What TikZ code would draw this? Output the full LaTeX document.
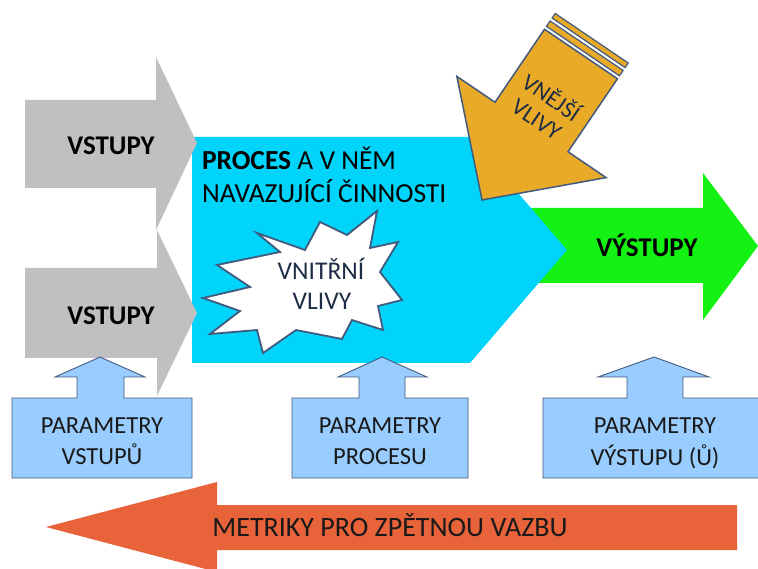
\documentclass[tikz,border=0pt]{standalone}
\usepackage{fontspec}
\setmainfont{Carlito}
\definecolor{grayA}{RGB}{192,192,192}
\definecolor{cyanP}{RGB}{0,212,250}
\definecolor{greenO}{RGB}{20,242,20}
\definecolor{orangeE}{RGB}{233,170,40}
\definecolor{redM}{RGB}{232,98,58}
\definecolor{blueB}{RGB}{153,204,255}
\definecolor{edgeC}{RGB}{65,90,125}
\definecolor{navyT}{RGB}{30,45,70}
\begin{document}
\begin{tikzpicture}[x=1pt,y=-1pt,
  txt/.style={inner sep=0pt, outer sep=0pt},
  bigbold/.style={txt, font=\fontsize{27}{32}\selectfont\bfseries},
  proctxt/.style={txt, font=\fontsize{27.5}{32}\selectfont},
  boxtxt/.style={txt, font=\fontsize{24.5}{30}\selectfont, text=black!90},
  startxt/.style={txt, font=\fontsize{25.5}{30}\selectfont, text=navyT},
  paramshape/.style={fill=blueB, draw=edgeC, line width=0.9pt, line join=miter},
  grayarrow/.style={fill=grayA},
]
\useasboundingbox (0,0) rectangle (758,569);
\clip (0,0) rectangle (758,569);
\fill[white] (0,0) rectangle (758,569);

% green output arrow
\fill[greenO] (530,208) -- (703,208) -- (703,173) -- (758,246) -- (703,320) -- (703,283) -- (530,283) -- cycle;

% cyan process chevron
\fill[cyanP] (192,137) -- (470,137) -- (567,250) -- (470,363) -- (192,363) -- cycle;

% gray input arrows
\fill[grayarrow] (25,100) -- (156,100) -- (156,57) -- (197,143) -- (156,230) -- (156,188) -- (25,188) -- cycle;
\fill[grayarrow] (25,268) -- (157,268) -- (157,230) -- (197,313) -- (157,396) -- (157,358) -- (25,358) -- cycle;

% internal influences explosion
\draw[fill=white, draw=edgeC, line width=1.8pt, line join=miter]
  (257,233) -- (305,250) -- (320,222) -- (347,235) -- (377,211) -- (370,248)
  -- (398,242) -- (380,272) -- (402,300) -- (378,306) -- (383,330) -- (352,320)
  -- (342,339) -- (296,330) -- (263,353) -- (257,330) -- (210,334) -- (240,311)
  -- (203,298) -- (250,287) -- (217,265) -- (280,252) -- cycle;

% external influences arrow (rotated)
\begin{scope}[shift={(482,200)}, x={(0.8295pt,-0.5625pt)}, y={(0.5625pt,0.8295pt)}]
  \draw[fill=orangeE, draw=edgeC, line width=1.5pt, line join=miter]
    (0,0) -- (90,88) -- (44,88) -- (44,176) -- (-44,176) -- (-44,88) -- (-90,88) -- cycle;
  \draw[fill=orangeE, draw=edgeC, line width=1.2pt]
    (-44,179.5) -- (44,179.5) -- (44,186) -- (-44,186) -- cycle;
  \draw[fill=orangeE, draw=edgeC, line width=1.2pt]
    (-44,189.5) -- (44,189.5) -- (44,195) -- (-44,195) -- cycle;
  \node[txt, rotate=-34.1, align=center, font=\fontsize{23.5}{26}\selectfont, text=navyT] (ext) at (0,112) {VNĚJŠÍ\\VLIVY};
\end{scope}

% parameter boxes with up arrows
\draw[paramshape] (12,398) -- (77,398) -- (77,377) -- (55,377) -- (100,357) -- (145,377) -- (124,377) -- (124,398) -- (192,398) -- (192,478) -- (12,478) -- cycle;
\draw[paramshape] (292,398) -- (359,398) -- (359,377) -- (338,377) -- (382,357) -- (427,377) -- (405,377) -- (405,398) -- (468,398) -- (468,478) -- (292,478) -- cycle;
\draw[paramshape] (543,398) -- (627,398) -- (627,377) -- (598,377) -- (654,357) -- (709,377) -- (683,377) -- (683,398) -- (770,398) -- (770,478) -- (543,478) -- cycle;

% feedback arrow
\fill[redM] (737,505) -- (217,505) -- (217,482) -- (46,527) -- (217,572) -- (217,550) -- (737,550) -- cycle;

% texts
\node[bigbold, anchor=base] (in1) at (111,155) {VSTUPY};
\node[bigbold, anchor=base] (in2) at (111,325) {VSTUPY};
\node[proctxt, anchor=base west] (proc1) at (202,170) {\textbf{PROCES} A V NĚM};
\node[proctxt, anchor=base west] (proc2) at (202,203) {NAVAZUJÍCÍ ČINNOSTI};
\node[bigbold, anchor=base] (out) at (647,257) {VÝSTUPY};
\node[startxt, anchor=base] (int1) at (321,280) {VNITŘNÍ};
\node[startxt, anchor=base] (int2) at (322,310) {VLIVY};

\node[boxtxt, anchor=base] (p1a) at (102,433) {PARAMETRY};
\node[boxtxt, anchor=base] (p1b) at (102,464) {VSTUPŮ};
\node[boxtxt, anchor=base] (p2a) at (380,433) {PARAMETRY};
\node[boxtxt, anchor=base] (p2b) at (380,464) {PROCESU};
\node[boxtxt, anchor=base] (p3a) at (655,433) {PARAMETRY};
\node[boxtxt, anchor=base] (p3b) at (655,465) {VÝSTUPU (Ů)};

\node[txt, anchor=base, font=\fontsize{28}{32}\selectfont, text=black!90] (metr) at (390,536) {METRIKY PRO ZPĚTNOU VAZBU};
\end{tikzpicture}
\end{document}
